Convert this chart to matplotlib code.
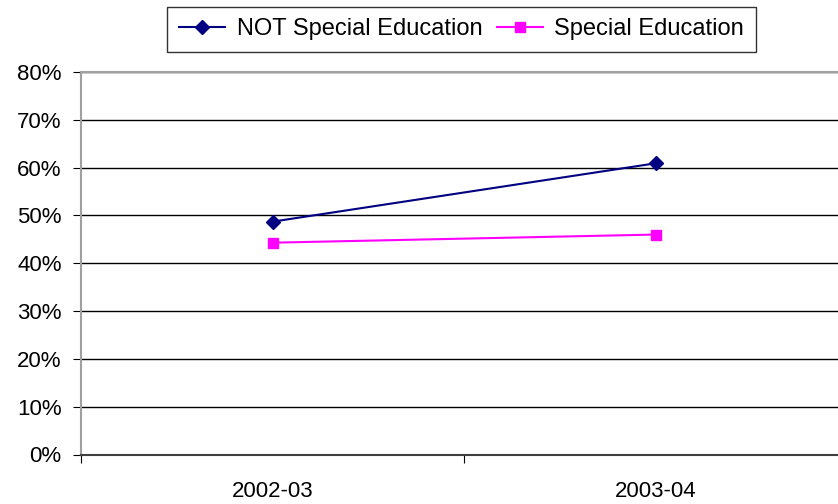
import matplotlib.pyplot as plt
from matplotlib.ticker import FixedLocator, PercentFormatter

plt.rcParams['font.family'] = ['Liberation Sans', 'DejaVu Sans']

years = ['2002-03', '2003-04']
not_special = [48.7, 60.9]
special = [44.3, 46.0]

fig = plt.figure(figsize=(8.38, 5.04), dpi=100)
# plot area runs past the right edge of the figure
ax = fig.add_axes([81 / 838, 49.5 / 504, 766 / 838, 382.5 / 504])

x = range(len(years))
ax.plot(x, not_special, color='#000080', lw=1.5, marker='D', ms=7,
        label='NOT Special Education')
ax.plot(x, special, color='#FF00FF', lw=1.5, marker='s', ms=7,
        label='Special Education')

ax.set_xlim(-0.5, 1.5)
ax.set_ylim(0, 80)
ax.yaxis.set_major_locator(FixedLocator(range(0, 81, 10)))
ax.yaxis.set_major_formatter(PercentFormatter(decimals=0))
ax.grid(axis='y', color='black', lw=1)
ax.set_axisbelow(True)

# category ticks sit between the categories, labels in the middle
ax.set_xticks([-0.5, 0.5, 1.5])
ax.set_xticklabels([])
ax.set_xticks(list(x), minor=True)
ax.set_xticklabels(years, minor=True)
ax.tick_params(axis='x', which='major', length=6, color='black')
ax.tick_params(axis='x', which='minor', length=0, pad=19, labelsize=16)
ax.tick_params(axis='y', length=6, color='black', pad=8, labelsize=16)

for s in ['top', 'left', 'right']:
    ax.spines[s].set_color('#a0a0a0')
    ax.spines[s].set_linewidth(1.5)
ax.spines['bottom'].set_color('#404040')
ax.spines['bottom'].set_linewidth(1.5)

leg = ax.legend(loc='center', bbox_to_anchor=(461.5 / 838, 1 - 29.5 / 504),
                bbox_transform=fig.transFigure, ncol=2, fontsize=17,
                frameon=True, fancybox=False, edgecolor='black',
                handlelength=1.95, columnspacing=0.6, handletextpad=0.5,
                borderpad=0.5)
leg.get_frame().set_linewidth(1)

fig.savefig('out.png', dpi=100)
